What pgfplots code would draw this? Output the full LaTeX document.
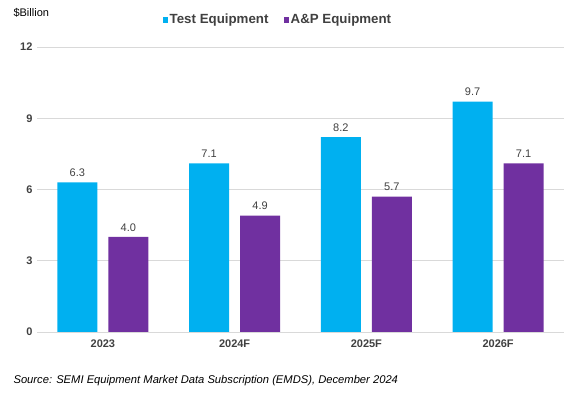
\documentclass[border=0pt]{standalone}
\usepackage{pgfplots}
\pgfplotsset{compat=1.18}
\usepackage{fontspec}
\setmainfont{Liberation Sans}
\definecolor{testc}{HTML}{00B0F0}
\definecolor{apc}{HTML}{7030A0}
\definecolor{txt}{HTML}{404040}
\definecolor{gridc}{HTML}{D9D9D9}
\begin{document}
\begin{tikzpicture}[x=1pt,y=1pt]
\useasboundingbox (0,0) rectangle (567,396);
\begin{axis}[
  at={(37pt,64pt)}, anchor=south west,
  scale only axis, width=527pt, height=285pt,
  ybar=11pt, bar width=40pt,
  xmin=-0.5, xmax=3.5, ymin=0, ymax=12,
  xtick=data, xticklabels={2023,2024F,2025F,2026F},
  ytick={0,3,6,9,12},
  axis lines*=left,
  y axis line style={draw=none},
  x axis line style={draw=gridc, line width=0.8pt},
  major tick length=0pt,
  ymajorgrids, grid style={gridc, line width=0.8pt},
  tick label style={font=\fontsize{11}{13}\selectfont\bfseries, text=txt},
  yticklabel style={xshift=-1pt},
  xticklabel style={yshift=-4pt},
  /pgf/number format/assume math mode=true,
  nodes near coords,
  nodes near coords style={font=\fontsize{11}{13}\selectfont, text=txt, yshift=2pt, /pgf/number format/fixed, /pgf/number format/fixed zerofill, /pgf/number format/precision=1},
  legend style={at={(0.457,1.095)}, anchor=center, draw=none, legend columns=2,
    font=\fontsize{13.3}{15}\selectfont\bfseries, text=txt,
    nodes={inner xsep=1.5pt},
    /tikz/every odd column/.append style={column sep=0pt},
    /tikz/every even column/.append style={column sep=14pt}},
  legend image code/.code={\fill[#1] (0pt,-2.6pt) rectangle (5.2pt,2.6pt);},
]
\addplot[fill=testc, draw=none] coordinates {(0,6.3) (1,7.1) (2,8.2) (3,9.7)};
\addplot[fill=apc, draw=none] coordinates {(0,4.0) (1,4.9) (2,5.7) (3,7.1)};
\legend{Test Equipment, A\&P Equipment}
\end{axis}
\node[anchor=west, font=\fontsize{11}{13}\selectfont, text=black] at (10,383) {\$Billion};
\node[anchor=west, font=\fontsize{11.2}{13}\selectfont\itshape, text=black] at (10,15) {Source: SEMI Equipment Market Data Subscription (EMDS), December 2024};
\end{tikzpicture}
\end{document}
